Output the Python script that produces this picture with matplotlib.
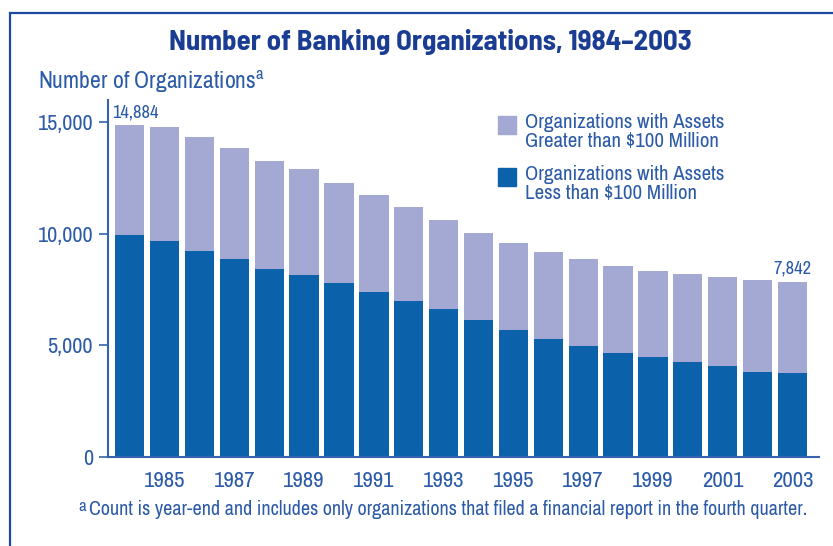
import matplotlib
matplotlib.use("Agg")
import matplotlib.pyplot as plt
from matplotlib.patches import Rectangle

# ==============================
# DATA
# ==============================
YEARS = list(range(1984, 2004))
SMALL = [9950, 9665, 9215, 8860, 8410, 8175, 7785, 7395, 7010, 6620,
         6160, 5710, 5310, 4995, 4655, 4475, 4280, 4085, 3815, 3760]
LARGE = [4934, 5115, 5105, 5000, 4870, 4715, 4515, 4325, 4190, 4000,
         3860, 3865, 3880, 3865, 3890, 3875, 3940, 4000, 4135, 4082]
TICK_YEARS = list(range(1985, 2004, 2))
Y_TICKS = [0, 5000, 10000, 15000]
Y_LABELS = ["0", "5,000", "10,000", "15,000"]
FIRST_LABEL = "14,884"
LAST_LABEL = "7,842"

# ==============================
# STYLE
# ==============================
FONT = ["Archivo Narrow", "Liberation Sans Narrow", "Liberation Sans", "DejaVu Sans"]
FONT_BOLD = ["Barlow Semi Condensed", "Archivo Narrow", "Liberation Sans", "DejaVu Sans"]
plt.rcParams["font.family"] = FONT
COR_CLARA = "#a3a9d3"
COR_ESCURA = "#0c62aa"
COR_TEXTO = "#2b5aa8"
COR_TITULO = "#1a3d93"
COR_BORDA = "#1c48a0"

W, H = 833, 546
fig = plt.figure(figsize=(W / 100, H / 100), dpi=100)

# frame around the figure (left and top edges visible)
fig.patches.append(Rectangle((9.5 / W, -0.1), 1.2, (H - 13) / H + 0.1,
                             transform=fig.transFigure, fill=False,
                             edgecolor=COR_BORDA, linewidth=1.6))

ax = fig.add_axes([107.7 / W, 89 / H, 711.3 / W, 357 / H])

ax.bar(YEARS, SMALL, width=0.84, color=COR_ESCURA, linewidth=0)
ax.bar(YEARS, LARGE, bottom=SMALL, width=0.84, color=COR_CLARA, linewidth=0)

ax.set_xlim(1983.37, 2003.76)
ax.set_ylim(0, 16000)

for s in ["top", "right"]:
    ax.spines[s].set_visible(False)
for s in ["left", "bottom"]:
    ax.spines[s].set_color("#3563ad")
    ax.spines[s].set_linewidth(1.5)

ax.set_xticks(TICK_YEARS)
ax.set_xticklabels([str(y) for y in TICK_YEARS])
ax.set_yticks(Y_TICKS)
ax.set_yticklabels(Y_LABELS)
ax.tick_params(axis="x", length=0, pad=10, labelsize=16.5, labelcolor=COR_TEXTO)
ax.tick_params(axis="y", length=6.5, width=1.2, color="#3563ad", pad=4,
               labelsize=16, labelcolor=COR_TEXTO)

# value labels on first and last bar
total_first = SMALL[0] + LARGE[0]
total_last = SMALL[-1] + LARGE[-1]
ax.annotate(FIRST_LABEL, (YEARS[0], total_first), xytext=(-12.5, 3),
            textcoords="offset points", ha="left", va="bottom",
            fontsize=13.3, color=COR_TEXTO)
ax.annotate(LAST_LABEL, (YEARS[-1], total_last), xytext=(13.5, 4),
            textcoords="offset points", ha="right", va="bottom",
            fontsize=13.3, color=COR_TEXTO)

# title and axis label
fig.text(430 / W, 1 - 50 / H, "Number of Banking Organizations, 1984\u20132003",
         ha="center", va="baseline", fontsize=20.8, fontweight="bold",
         family=FONT_BOLD, color=COR_TITULO)
fig.text(38 / W, 1 - 89 / H, "Number of Organizations$^{\\mathregular{a}}$",
         ha="left", va="baseline", fontsize=17, color=COR_TEXTO)

# legend
leg = [(116, COR_CLARA, "Organizations with Assets\nGreater than $100 Million"),
       (168, COR_ESCURA, "Organizations with Assets\nLess than $100 Million")]
for top, cor, txt in leg:
    fig.patches.append(Rectangle((497.7 / W, 1 - (top + 17.5) / H), 18 / W, 17.5 / H,
                                 transform=fig.transFigure, color=cor))
    fig.text(525 / W, 1 - (top - 2.5) / H, txt.replace("$", r"\$"), ha="left",
             va="top", fontsize=15, color=COR_TEXTO, linespacing=0.98)

# footnote
fig.text(78 / W, 1 - 499 / H, "a", ha="left", va="top", fontsize=12,
         color=COR_TEXTO)
fig.text(89 / W, 1 - 515 / H,
         "Count is year-end and includes only organizations that filed a "
         "financial report in the fourth quarter.",
         ha="left", va="baseline", fontsize=14.45, color=COR_TEXTO)

fig.savefig("out.png", dpi=100)
